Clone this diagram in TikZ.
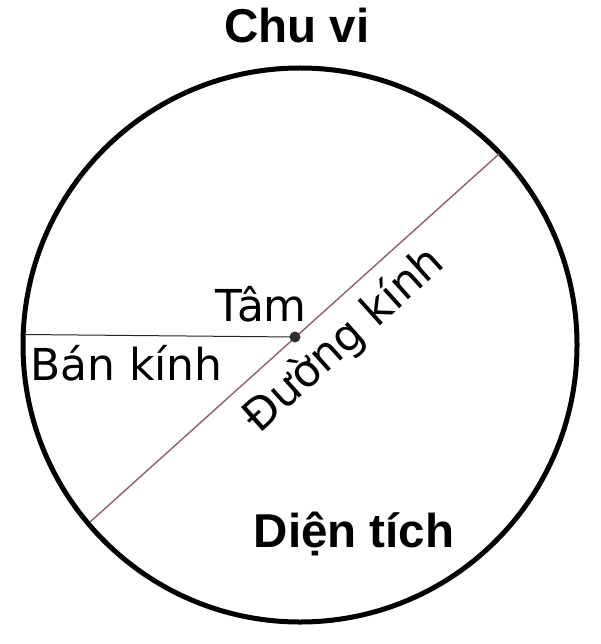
\documentclass[tikz,border=0pt]{standalone}
\usepackage{fontspec}
\setmainfont{DejaVu Sans}
\newfontfamily\titlefont{Liberation Sans}
\definecolor{diamcol}{RGB}{140,100,100}
\definecolor{dotcol}{RGB}{45,45,45}
\tikzset{
  title/.style={inner sep=0pt, anchor=base, font=\titlefont\bfseries\fontsize{47.5}{52}\selectfont},
  label/.style={inner sep=0pt, font=\fontsize{44}{50}\selectfont},
}
\begin{document}
\begin{tikzpicture}[x=1pt,y=-1pt]
\useasboundingbox (0,0) rectangle (600,644);
\fill[white] (0,0) rectangle (600,644);
\coordinate (C) at (300,345);
\coordinate (O) at (295,337);
\draw[line width=5pt] (C) circle[radius=277];
\coordinate (D1) at (90,522);
\coordinate (D2) at (499,154);
\coordinate (R) at (24,334.5);
\draw[diamcol, line width=1.4pt] (D1) -- (D2);
\draw[black!85, line width=1pt] (R) -- (O);
\fill[dotcol] (O) circle[radius=5.5];
\node[title] (chuvi) at (297,43) {Chu vi};
\node[title] (dientich) at (354,547) {Diện tích};
\node[label, anchor=base west] (bankinh) at (30,380) {Bán kính};
\node[label, anchor=base east] (tam) at (307,321) {Tâm};
\node[label, anchor=base, rotate=42] (duongkinh) at (353,350) {Đường kính};
\end{tikzpicture}
\end{document}
